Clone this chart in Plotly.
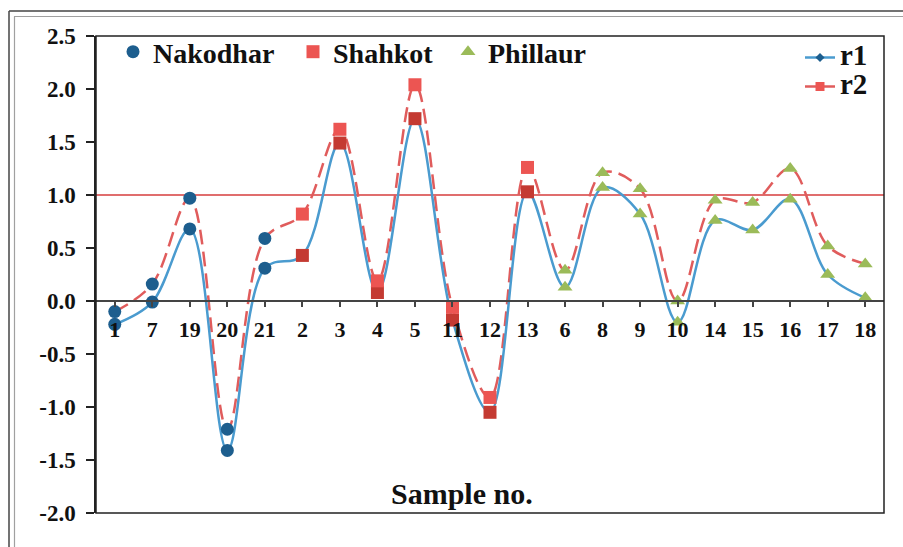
import plotly.graph_objects as go

# ---- data ----
samples = ["1", "7", "19", "20", "21", "2", "3", "4", "5", "11", "12", "13",
           "6", "8", "9", "10", "14", "15", "16", "17", "18"]
region = ["Nakodhar"] * 5 + ["Shahkot"] * 7 + ["Phillaur"] * 9
r1 = [-0.22, -0.01, 0.68, -1.41, 0.31, 0.43, 1.49, 0.08, 1.72, -0.18, -1.05, 1.03,
      0.13, 1.07, 0.82, -0.20, 0.76, 0.67, 0.96, 0.25, 0.03]
r2 = [-0.10, 0.16, 0.97, -1.21, 0.59, 0.82, 1.62, 0.19, 2.04, -0.06, -0.91, 1.26,
      0.29, 1.21, 1.06, 0.00, 0.95, 0.93, 1.25, 0.52, 0.35]
threshold = 1.0
y_ticks = [-2.0, -1.5, -1.0, -0.5, 0.0, 0.5, 1.0, 1.5, 2.0, 2.5]
y_ticktext = ["%.1f" % v for v in y_ticks]  # plain hyphen minus, as in the original

# ---- styles ----
FONT = "Liberation Serif, Times New Roman, serif"
C_R1 = "#4A9BCF"
C_R2 = "#E05C5C"
group_style = {
    "Nakodhar": dict(symbol="circle", size=13, c1="#1D5E8E", c2="#1D5E8E", lw=135),
    "Shahkot": dict(symbol="square", size=13, c1="#C43A32", c2="#EC5552", lw=110),
    "Phillaur": dict(symbol="triangle-up", size=13, c1="#9BBB59", c2="#9BBB59", lw=110),
}

fig = go.Figure()

# smoothed lines
fig.add_trace(go.Scatter(x=samples, y=r2, mode="lines", showlegend=False,
                         line=dict(color=C_R2, width=2.5, shape="spline", smoothing=1.0,
                                   dash="15px,7px"), hoverinfo="skip"))
fig.add_trace(go.Scatter(x=samples, y=r1, mode="lines", showlegend=False,
                         line=dict(color=C_R1, width=2.5, shape="spline", smoothing=1.0),
                         hoverinfo="skip"))

# group markers
for g, st in group_style.items():
    xs = [s for s, rg in zip(samples, region) if rg == g]
    y1 = [v for v, rg in zip(r1, region) if rg == g]
    y2 = [v for v, rg in zip(r2, region) if rg == g]
    fig.add_trace(go.Scatter(x=xs, y=y1, mode="markers", name=g, legendgroup=g,
                             showlegend=False, legend="legend",
                             marker=dict(symbol=st["symbol"], size=st["size"], color=st["c1"])))
    fig.add_trace(go.Scatter(x=xs, y=y2, mode="markers", name=g, legendgroup=g,
                             showlegend=True, legend="legend", legendwidth=st["lw"],
                             marker=dict(symbol=st["symbol"], size=st["size"], color=st["c2"])))

# legend entries for r1 / r2
BIG = "<span style='font-size:29px'>%s</span>"
fig.add_trace(go.Scatter(x=[None], y=[None], mode="lines+markers", name=BIG % "r1",
                         legend="legend2",
                         line=dict(color=C_R1, width=2.5),
                         marker=dict(symbol="diamond", size=7, color="#1D5E8E")))
fig.add_trace(go.Scatter(x=[None], y=[None], mode="lines+markers", name=BIG % "r2",
                         legend="legend2",
                         line=dict(color=C_R2, width=2.5),
                         marker=dict(symbol="square", size=9, color="#EC5552")))

W, H = 903, 547
L, R, T, B = 96, 19, 36, 34
pw, ph = W - L - R, H - T - B

def px_x(p):
    return (p - L) / pw

def px_y(p):
    return (H - B - p) / ph

ymin, ymax = y_ticks[0], y_ticks[-1]

shapes = [
    # threshold line
    dict(type="line", xref="paper", yref="y", x0=0, x1=1, y0=threshold, y1=threshold,
         line=dict(color="#D63C3C", width=1.5), layer="below"),
    # plot frame
    dict(type="rect", xref="paper", yref="paper", x0=0, x1=1, y0=0, y1=1,
         line=dict(color="#222222", width=1.5)),
    # outer picture frame (double line)
    dict(type="line", xref="paper", yref="paper", x0=px_x(9), x1=px_x(W + 5),
         y0=px_y(11), y1=px_y(11), line=dict(color="#444444", width=1.5)),
    dict(type="line", xref="paper", yref="paper", x0=px_x(14), x1=px_x(W + 5),
         y0=px_y(16.5), y1=px_y(16.5), line=dict(color="#A0A0A0", width=1.2)),
    dict(type="line", xref="paper", yref="paper", x0=px_x(9), x1=px_x(9),
         y0=px_y(11), y1=px_y(H + 5), line=dict(color="#444444", width=1.5)),
    dict(type="line", xref="paper", yref="paper", x0=px_x(14.5), x1=px_x(14.5),
         y0=px_y(16.5), y1=px_y(H + 5), line=dict(color="#A0A0A0", width=1.2)),
]

fig.update_layout(
    width=W, height=H,
    margin=dict(l=L, r=R, t=T, b=B),
    paper_bgcolor="white", plot_bgcolor="white",
    font=dict(family=FONT, color="#111111"),
    xaxis=dict(type="category", categoryorder="array", categoryarray=samples,
               range=[-0.5, len(samples) - 0.5], anchor="free",
               position=(0 - ymin) / (ymax - ymin),
               showline=True, linecolor="#444444", linewidth=1.5,
               ticks="outside", ticklen=5, tickcolor="#444444", tickwidth=1.5,
               ticklabelstandoff=4,
               showgrid=False, zeroline=False,
               tickfont=dict(family=FONT, size=22, weight="bold", color="#111111")),
    yaxis=dict(range=[ymin, ymax], tickmode="array", tickvals=y_ticks, ticktext=y_ticktext,
               showline=True, linecolor="#222222", linewidth=1.5,
               ticks="outside", ticklen=8, tickcolor="#222222", tickwidth=1.5,
               ticklabelstandoff=6,
               showgrid=False, zeroline=False,
               tickfont=dict(family=FONT, size=23, weight="bold", color="#111111")),
    legend=dict(orientation="h", x=px_x(113), y=px_y(27), xanchor="left", yanchor="top",
                bgcolor="rgba(0,0,0,0)",
                font=dict(family=FONT, size=28, weight="bold", color="#111111")),
    legend2=dict(orientation="v", x=px_x(873), y=px_y(38), xanchor="right", yanchor="top",
                 bgcolor="rgba(0,0,0,0)", tracegroupgap=0,
                 font=dict(family=FONT, size=20, weight="bold", color="#111111")),
    shapes=shapes,
    annotations=[dict(text="Sample no.", xref="paper", yref="paper",
                      x=px_x(462), y=px_y(493), xanchor="center", yanchor="middle",
                      showarrow=False,
                      font=dict(family=FONT, size=30, weight="bold", color="#111111"))],
)

fig.write_html("out.html")
